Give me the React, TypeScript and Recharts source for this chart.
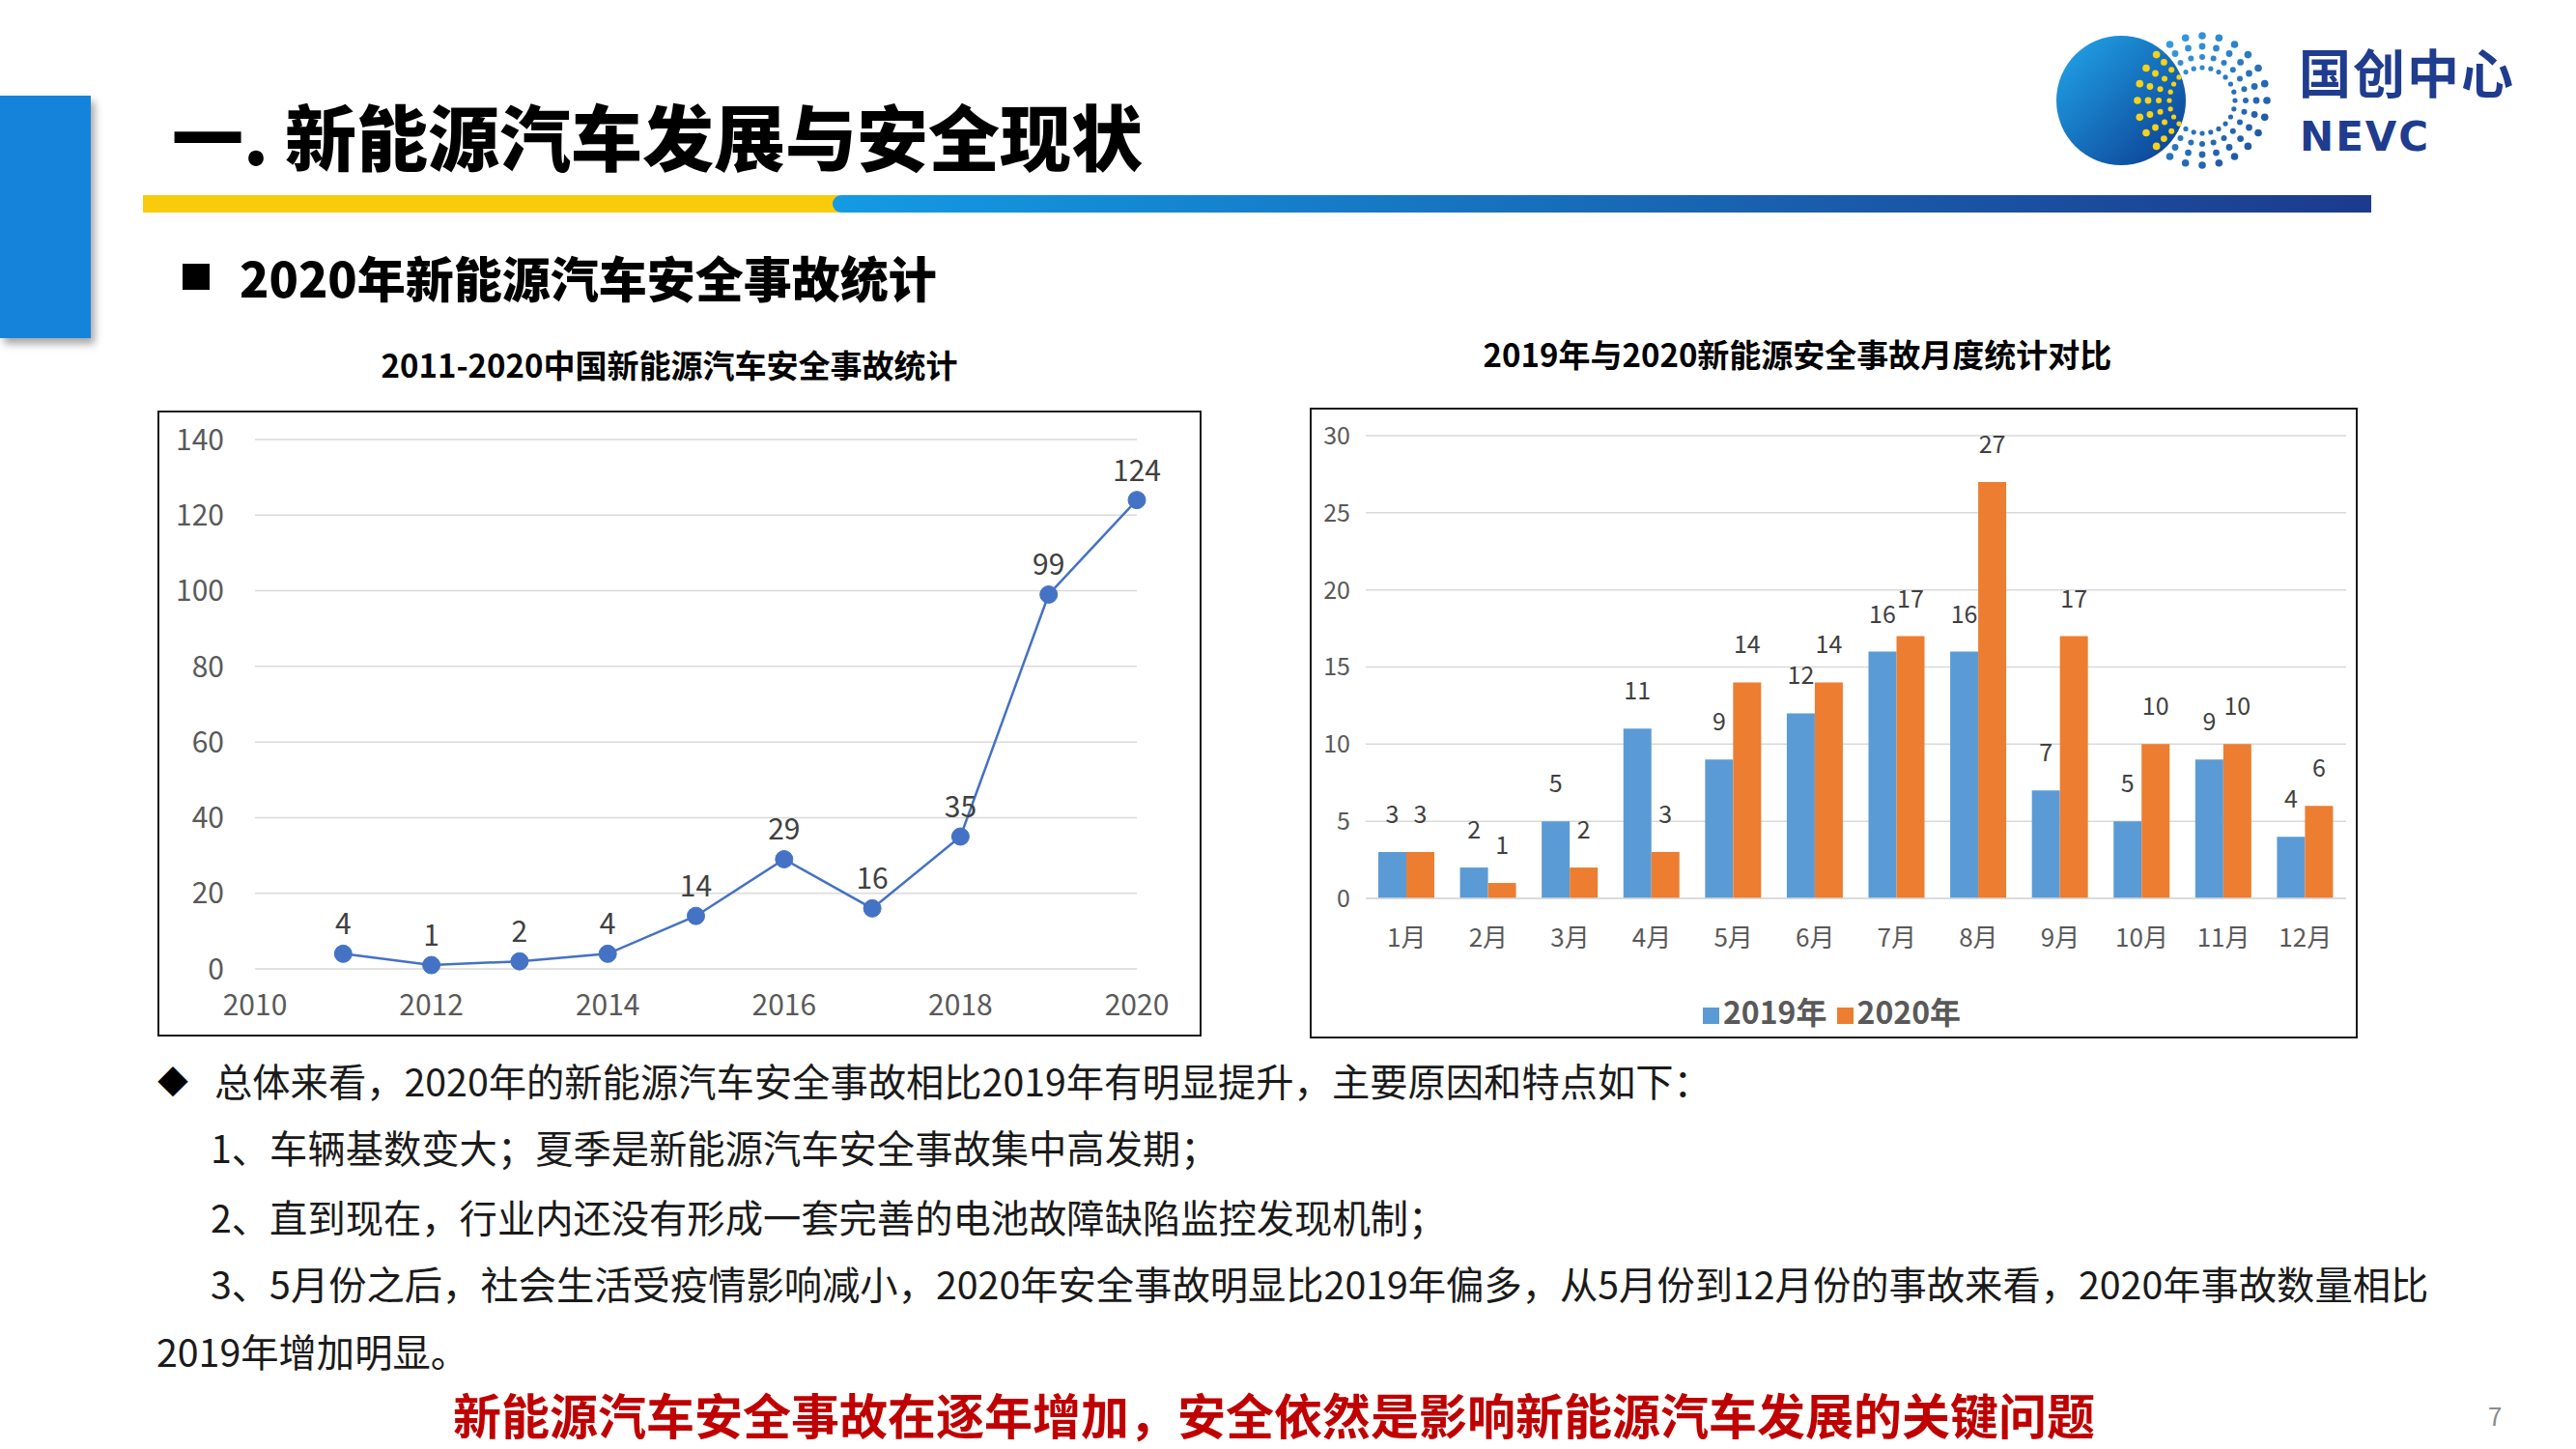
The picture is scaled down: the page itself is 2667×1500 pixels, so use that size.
import React from "react";
import { Bar, BarChart, CartesianGrid, LabelList, Legend, Line, LineChart, XAxis, YAxis } from "recharts";

const FONT = '"Noto Sans CJK SC", "Noto Sans", sans-serif';

// 2011-2020 yearly accidents
const years = [2011, 2012, 2013, 2014, 2015, 2016, 2017, 2018, 2019, 2020];
const yearlyAccidents = [4, 1, 2, 4, 14, 29, 16, 35, 99, 124];
const yearTicks = [2010, 2012, 2014, 2016, 2018, 2020];
const yearlyTicks = [0, 20, 40, 60, 80, 100, 120, 140];

// 2019 vs 2020 monthly accidents
const months = ["1月", "2月", "3月", "4月", "5月", "6月", "7月", "8月", "9月", "10月", "11月", "12月"];
const accidents2019 = [3, 2, 5, 11, 9, 12, 16, 16, 7, 5, 9, 4];
const accidents2020 = [3, 1, 2, 3, 14, 14, 17, 27, 17, 10, 10, 6];
const monthlyTicks = [0, 5, 10, 15, 20, 25, 30];

const bodyLines = [
  "1、车辆基数变大；夏季是新能源汽车安全事故集中高发期；",
  "2、直到现在，行业内还没有形成一套完善的电池故障缺陷监控发现机制；",
  "3、5月份之后，社会生活受疫情影响减小，2020年安全事故明显比2019年偏多，从5月份到12月份的事故来看，2020年事故数量相比",
];

const yearlyData = years.map((year, i) => ({ year, count: yearlyAccidents[i] }));
const monthlyData = months.map((month, i) => ({ month, y2019: accidents2019[i], y2020: accidents2020[i] }));

const tickStyle = (size: number) => ({ fill: "#595959", fontSize: size, fontFamily: FONT });

function Logo() {
  // decorative dot ring of the NEVC logo
  const cx = 180, cy = 104;
  const dots: React.ReactNode[] = [];
  for (let a = 0; a < 360; a += 15) {
    [34, 45, 56, 67].forEach((r, k) => {
      const x = cx + r * Math.cos((a * Math.PI) / 180);
      const y = cy + r * Math.sin((a * Math.PI) / 180);
      const inside = Math.hypot(x - 96, y - 104) < 66;
      dots.push(<circle key={a + "-" + k} cx={x} cy={y} r={2.6 + k * 0.4} fill={inside ? "#F6D21A" : "url(#ringGrad)"} />);
    });
  }
  return (
    <svg width={567} height={220} style={{ position: "absolute", left: 2100, top: 0 }}>
      <defs>
        <linearGradient id="ballGrad" x1="0" y1="0" x2="1" y2="1">
          <stop offset="0" stopColor="#22A8EC" />
          <stop offset="1" stopColor="#0A3A8E" />
        </linearGradient>
        <linearGradient id="ringGrad" gradientUnits="userSpaceOnUse" x1="110" y1="40" x2="250" y2="170">
          <stop offset="0" stopColor="#3AAAE8" />
          <stop offset="1" stopColor="#1C4A9E" />
        </linearGradient>
      </defs>
      <circle cx={96} cy={104} r={67} fill="url(#ballGrad)" />
      {dots}
    </svg>
  );
}

export default function App() {
  return (
    <div style={{ position: "absolute", left: 0, top: 0, width: 2667, height: 1500, background: "#fff", overflow: "hidden", fontFamily: FONT }}>
      {/* header */}
      <div style={{ position: "absolute", left: 0, top: 99, width: 94, height: 251, background: "#1683DA", boxShadow: "4px 6px 8px rgba(0,0,0,0.35)" }} />
      <div style={{ position: "absolute", left: 178, top: 102, fontSize: 74, lineHeight: 1, fontWeight: 900, color: "#000", whiteSpace: "nowrap" }}>一. 新能源汽车发展与安全现状</div>
      <div style={{ position: "absolute", left: 148, top: 202, width: 740, height: 18, background: "#F8CB0C" }} />
      <div style={{ position: "absolute", left: 862, top: 202, width: 1593, height: 18, borderRadius: "9px 0 0 9px", background: "linear-gradient(90deg, #139BE3, #1D3A8C)" }} />
      <Logo />
      <div style={{ position: "absolute", left: 2380, top: 47, height: 54, fontSize: 54, lineHeight: "54px", fontWeight: 700, color: "#1F3C8E", letterSpacing: 2, whiteSpace: "nowrap" }}>国创中心</div>
      <div style={{ position: "absolute", left: 2381, top: 121, height: 42, fontSize: 42, lineHeight: "42px", fontWeight: 700, color: "#1F3C8E", letterSpacing: 2, fontFamily: '"DejaVu Sans", sans-serif', whiteSpace: "nowrap" }}>NEVC</div>

      <div style={{ position: "absolute", left: 189, top: 273, width: 28, height: 27, background: "#000" }} />
      <div style={{ position: "absolute", left: 248, top: 261, fontSize: 50, lineHeight: 1, fontWeight: 900, whiteSpace: "nowrap" }}>2020年新能源汽车安全事故统计</div>

      {/* chart titles */}
      <div style={{ position: "absolute", left: 293, top: 361, width: 800, textAlign: "center", fontSize: 33, lineHeight: 1, fontWeight: 700 }}>2011-2020中国新能源汽车安全事故统计</div>
      <div style={{ position: "absolute", left: 1461, top: 350, width: 800, textAlign: "center", fontSize: 33, lineHeight: 1, fontWeight: 700 }}>2019年与2020新能源安全事故月度统计对比</div>

      {/* left chart */}
      <div style={{ position: "absolute", left: 163, top: 425, width: 1081, height: 648 }}>
        <LineChart width={1081} height={648} data={yearlyData} margin={{ top: 30, right: 67, bottom: 20, left: 31 }}>
          <CartesianGrid vertical={false} stroke="#d9d9d9" strokeWidth={1.5} />
          <XAxis dataKey="year" type="number" domain={[2010, 2020]} ticks={yearTicks} interval={0} height={50} axisLine={false} tickLine={false} tickSize={0} tickMargin={27} tick={tickStyle(30)} />
          <YAxis domain={[0, 140]} ticks={yearlyTicks} interval={0} width={70} axisLine={false} tickLine={false} tickSize={0} tickMargin={32} tick={tickStyle(30)} />
          <Line dataKey="count" stroke="#4472C4" strokeWidth={2.5} dot={{ r: 9, fill: "#4472C4", stroke: "#4472C4", strokeWidth: 1 }} isAnimationActive={false}>
            <LabelList dataKey="count" position="top" offset={20} fill="#404040" fontSize={30} fontFamily={FONT} />
          </Line>
        </LineChart>
        <div style={{ position: "absolute", left: 0, top: 0, width: 1081, height: 648, boxSizing: "border-box", border: "2px solid #1a1a1a", pointerEvents: "none" }} />
      </div>

      {/* right chart */}
      <div style={{ position: "absolute", left: 1356, top: 422, width: 1085, height: 653 }}>
        <BarChart width={1085} height={653} data={monthlyData} margin={{ top: 29, right: 12, bottom: 9, left: 18 }} barGap={0} barSize={29}>
          <CartesianGrid vertical={false} stroke="#d9d9d9" strokeWidth={1.5} />
          <XAxis dataKey="month" interval={0} height={96} axisLine={{ stroke: "#d9d9d9", strokeWidth: 1.5 }} tickLine={false} tickSize={0} tickMargin={32} tick={tickStyle(26)} />
          <YAxis domain={[0, 30]} ticks={monthlyTicks} interval={0} width={40} axisLine={false} tickLine={false} tickSize={0} tickMargin={16} tick={tickStyle(25)} />
          <Legend
            verticalAlign="bottom"
            iconType="square"
            iconSize={17}
            wrapperStyle={{ fontSize: 32, fontWeight: 700, lineHeight: "40px", fontFamily: FONT }}
            formatter={(value) => <span style={{ color: "#595959" }}>{value}</span>}
          />
          <Bar dataKey="y2019" name="2019年" fill="#5B9BD5" isAnimationActive={false}>
            <LabelList dataKey="y2019" position="top" offset={30} fill="#404040" fontSize={25} fontFamily={FONT} />
          </Bar>
          <Bar dataKey="y2020" name="2020年" fill="#ED7D31" isAnimationActive={false}>
            <LabelList dataKey="y2020" position="top" offset={30} fill="#404040" fontSize={25} fontFamily={FONT} />
          </Bar>
        </BarChart>
        <div style={{ position: "absolute", left: 0, top: 0, width: 1085, height: 653, boxSizing: "border-box", border: "2px solid #1a1a1a", pointerEvents: "none" }} />
      </div>

      {/* body text */}
      <div style={{ position: "absolute", left: 163, top: 1102, fontSize: 32, lineHeight: 1 }}>◆</div>
      <div style={{ position: "absolute", left: 222, top: 1098, fontSize: 39.3, lineHeight: 1, color: "#1a1a1a", whiteSpace: "nowrap" }}>总体来看，2020年的新能源汽车安全事故相比2019年有明显提升，主要原因和特点如下：</div>
      {bodyLines.map((line, i) => (
        <div key={i} style={{ position: "absolute", left: 218, top: [1167, 1239, 1308][i], fontSize: 39.3, lineHeight: 1, color: "#1a1a1a", whiteSpace: "nowrap" }}>{line}</div>
      ))}
      <div style={{ position: "absolute", left: 162, top: 1378, fontSize: 39.3, lineHeight: 1, color: "#1a1a1a", whiteSpace: "nowrap" }}>2019年增加明显。</div>
      <div style={{ position: "absolute", left: 0, top: 1438, width: 2638, textAlign: "center", fontSize: 50, lineHeight: 1, fontWeight: 700, color: "#C00000", whiteSpace: "nowrap" }}>新能源汽车安全事故在逐年增加，安全依然是影响新能源汽车发展的关键问题</div>
      <div style={{ position: "absolute", left: 2576, top: 1452, fontSize: 26, lineHeight: 1, color: "#8c8c8c" }}>7</div>
    </div>
  );
}
